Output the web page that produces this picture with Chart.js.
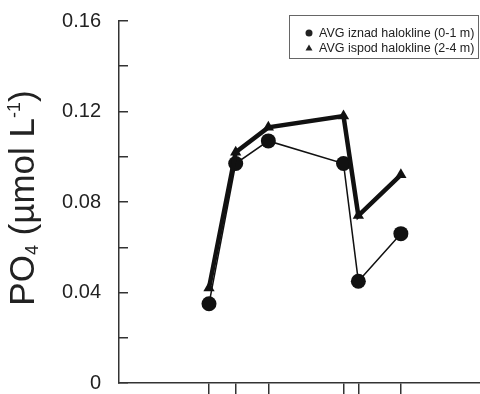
<!DOCTYPE html>
<html>
<head>
<meta charset="utf-8">
<style>
  html, body { margin: 0; padding: 0; background: #fff; }
  #wrap { position: relative; width: 480px; height: 394px; }
</style>
<script src="https://cdn.jsdelivr.net/npm/chart.js@4/dist/chart.umd.min.js"></script>
</head>
<body>
<div id="wrap"><canvas id="myChart"></canvas></div>
<script>
// sampling days (day of year) and PO4 averages
var sampleDays = [91, 118, 151, 227, 242, 285];
var aboveHalocline = [0.035, 0.097, 0.107, 0.097, 0.045, 0.066];
var belowHalocline = [0.042, 0.102, 0.113, 0.118, 0.074, 0.092];
var seriesNames = ['AVG iznad halokline (0-1 m)', 'AVG ispod halokline (2-4 m)'];
var yLabels = [0, 0.04, 0.08, 0.12, 0.16];

var font = 'Liberation Sans, Arial, sans-serif';
var ink = '#222';

function toPoints(values) {
  return values.map(function(v, i) { return { x: sampleDays[i], y: v }; });
}

// y axis title with sub/superscript
var yTitle = {
  id: 'yTitle',
  afterDraw: function(chart) {
    var ctx = chart.ctx;
    var area = chart.chartArea;
    var parts = [
      { t: 'PO', size: 35, dy: 0 },
      { t: '4', size: 18, dy: 4 },
      { t: ' (\u00b5mol L', size: 35, dy: 0 },
      { t: '-1', size: 18, dy: -14 },
      { t: ')', size: 35, dy: 0 }
    ];
    ctx.save();
    var total = 0;
    parts.forEach(function(p) {
      ctx.font = p.size + 'px ' + font;
      p.w = ctx.measureText(p.t).width;
      total += p.w;
    });
    ctx.translate(34, (area.top + area.bottom) / 2 - 4);
    ctx.rotate(-Math.PI / 2);
    ctx.fillStyle = ink;
    ctx.textBaseline = 'alphabetic';
    var x = -total / 2;
    parts.forEach(function(p) {
      ctx.font = p.size + 'px ' + font;
      ctx.fillText(p.t, x, p.dy);
      x += p.w;
    });
    ctx.restore();
  }
};

// boxed legend in the top right corner
var boxLegend = {
  id: 'boxLegend',
  afterDraw: function(chart) {
    var ctx = chart.ctx;
    ctx.save();
    ctx.strokeStyle = '#666';
    ctx.lineWidth = 1;
    ctx.strokeRect(289.5, 15.5, 189, 43);
    ctx.font = '12.5px ' + font;
    ctx.fillStyle = ink;
    ctx.textBaseline = 'middle';
    chart.data.datasets.forEach(function(ds, i) {
      var y = 33 + i * 15;
      ctx.beginPath();
      if (ds.pointStyle === 'triangle') {
        ctx.moveTo(309, y - 3.5);
        ctx.lineTo(312.5, y + 2.5);
        ctx.lineTo(305.5, y + 2.5);
        ctx.closePath();
      } else {
        ctx.arc(309, y, 3.5, 0, Math.PI * 2);
      }
      ctx.fill();
      ctx.fillText(ds.label, 319, y + 1);
    });
    ctx.restore();
  }
};

var ctx = document.getElementById('myChart').getContext('2d');
var myChart = new Chart(ctx, {
  type: 'line',
  data: {
    datasets: [{
      label: seriesNames[0],
      data: toPoints(aboveHalocline),
      borderColor: '#111',
      backgroundColor: '#111',
      borderWidth: 1.5,
      pointStyle: 'circle',
      pointRadius: 7.5,
      pointBorderWidth: 0,
      tension: 0,
      order: 2
    }, {
      label: seriesNames[1],
      data: toPoints(belowHalocline),
      borderColor: '#111',
      backgroundColor: '#111',
      borderWidth: 4.5,
      pointStyle: 'triangle',
      pointRadius: 6.5,
      pointBorderWidth: 0,
      tension: 0,
      order: 1
    }]
  },
  options: {
    responsive: true,
    maintainAspectRatio: false,
    animation: false,
    layout: { autoPadding: false, padding: { top: 21, left: 0, right: 0, bottom: 0 } },
    plugins: {
      legend: { display: false },
      tooltip: { enabled: false }
    },
    scales: {
      x: {
        type: 'linear',
        min: 0,
        max: 365,
        afterBuildTicks: function(scale) {
          scale.ticks = sampleDays.map(function(d) { return { value: d }; });
        },
        ticks: { display: false },
        grid: { drawOnChartArea: false, drawTicks: true, tickLength: 11, color: '#333', lineWidth: 1.5 },
        border: { display: true, color: '#333', width: 1.5 }
      },
      y: {
        min: 0,
        max: 0.16,
        afterFit: function(scale) {
          scale.width = 119;
          scale.paddingTop = 0;
          scale.paddingBottom = 0;
        },
        ticks: {
          stepSize: 0.02,
          padding: 27,
          color: ink,
          font: { family: font, size: 20 },
          callback: function(value) {
            for (var l of yLabels) {
              if (Math.abs(value - l) < 1e-6) return l === 0 ? '0' : l.toFixed(2);
            }
            return '';
          }
        },
        grid: { drawOnChartArea: false, drawTicks: true, tickLength: -9, color: '#333', lineWidth: 1.5 },
        border: { display: true, color: '#333', width: 1.5 }
      }
    }
  },
  plugins: [yTitle, boxLegend]
});
</script>
</body>
</html>
